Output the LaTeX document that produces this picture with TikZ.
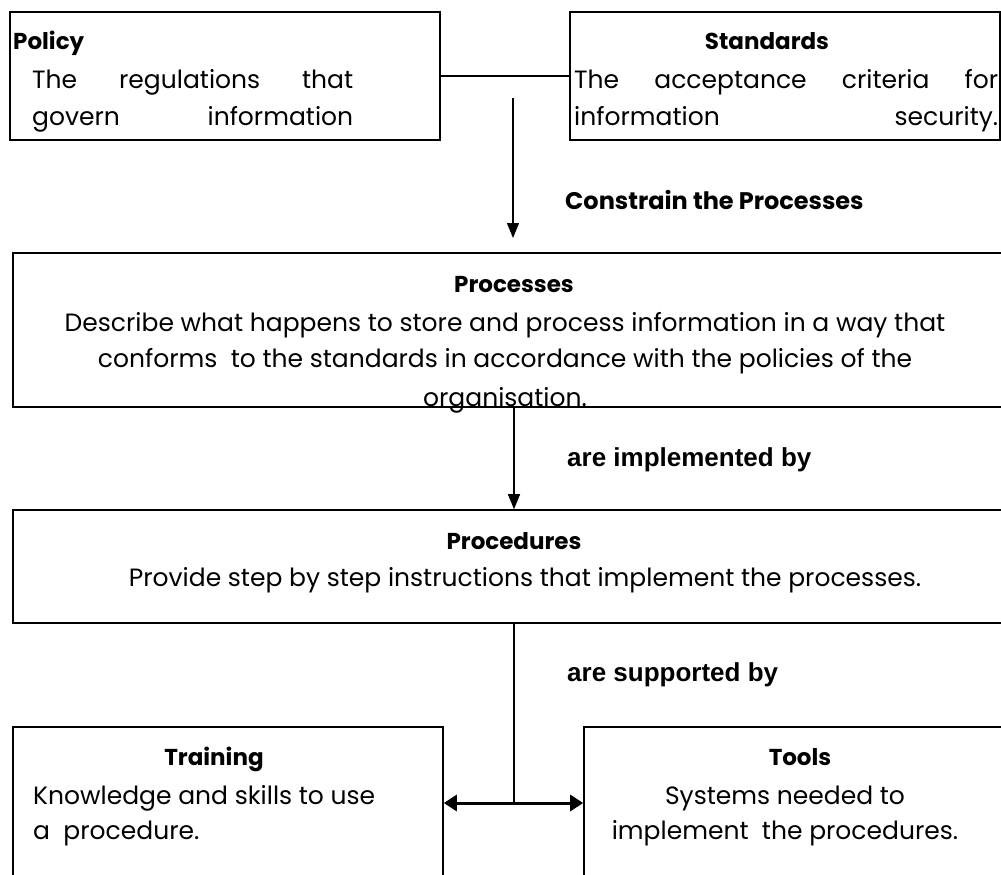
\documentclass[tikz,border=0pt]{standalone}
\usepackage{fontspec}
\setmainfont{Poppins}
\newfontfamily\arialfont{Liberation Sans}
\usetikzlibrary{arrows.meta}

\tikzset{
  box/.style={draw, line width=1.6pt, inner sep=0pt},
  body/.style={font=\fontsize{25}{30}\selectfont, inner sep=0pt},
  head/.style={font=\fontsize{23}{28}\selectfont\bfseries, inner sep=0pt},
  flowlabel/.style={font=\arialfont\fontsize{26}{31}\selectfont\bfseries, inner sep=0pt, anchor=mid west},
  flow/.style={line width=1.4pt, -{Triangle[length=15pt,width=12pt]}},
}

\begin{document}
\begin{tikzpicture}[x=1pt,y=-1pt]
  \useasboundingbox (0,0) rectangle (1001,875);
  \clip (0,0) rectangle (1001,875);
  % boxes (some run past the page edge)
  \node[box, minimum width=430pt, minimum height=128pt] (policy) at (225,76) {};
  \node[box, minimum width=430pt, minimum height=128pt] (standards) at (785,76) {};
  \node[box, minimum width=1002pt, minimum height=154pt] (processes) at (514,330) {};
  \node[box, minimum width=1002pt, minimum height=113pt] (procedures) at (514,566.5) {};
  \node[box, minimum width=430pt, minimum height=180pt] (training) at (228,817) {};
  \node[box, minimum width=431pt, minimum height=180pt] (tools) at (799.5,817) {};

  % texts
  \node[head, anchor=mid west] (policyhead) at (13,47) {Policy};
  \node[body, anchor=mid west] (policyone) at (32,86) {\makebox[321pt][s]{The regulations that}};
  \node[body, anchor=mid west] (policytwo) at (32,123) {\makebox[321pt][s]{govern information}};
  \node[head, anchor=mid] (standardshead) at (767,47) {Standards};
  \node[body, anchor=mid west] (standardsone) at (574,86) {\makebox[424pt][s]{The acceptance criteria for}};
  \node[body, anchor=mid west] (standardstwo) at (574,123) {\makebox[424pt][s]{information security.}};

  \node[head, anchor=mid] (processeshead) at (514,290) {Processes};
  \node[body, anchor=mid] (processesone) at (505,329) {Describe what happens to store and process information in a way that};
  \node[body, anchor=mid] (processestwo) at (505,365) {conforms\ \ to the standards in accordance with the policies of the};
  \node[body, anchor=mid] (processesthree) at (505,404) {organisation.};

  \node[head, anchor=mid] (procedureshead) at (514,547) {Procedures};
  \node[body, anchor=mid] (proceduresone) at (525,584) {Provide step by step instructions that implement the processes.};

  \node[head, anchor=mid] (traininghead) at (214,763) {Training};
  \node[body, anchor=mid west] (trainingone) at (33,802) {Knowledge and skills to use};
  \node[body, anchor=mid west] (trainingtwo) at (33,837) {a\ \ procedure.};
  \node[head, anchor=mid] (toolshead) at (800,763) {Tools};
  \node[body, anchor=mid] (toolsone) at (785,802) {Systems needed to};
  \node[body, anchor=mid] (toolstwo) at (785,837) {implement\ \ the procedures.};

  % connectors
  \coordinate (constraintop) at (513,98);
  \coordinate (constraintip) at (513,238);
  \coordinate (split) at (514,803);
  \draw[line width=1.4pt] (policy) -- (standards);
  \draw[flow] (constraintop) -- (constraintip);
  \draw[flow] (processes.south) -- (procedures.north);
  \draw[line width=1.4pt] (procedures.south) -- (split);
  \draw[line width=3pt, {Triangle[length=13pt,width=16pt]}-{Triangle[length=13pt,width=16pt]}]
    (training.east |- split) -- (tools.west |- split);

  % labels on the connectors
  \node[font=\fontsize{24}{29}\selectfont\bfseries, inner sep=0pt, anchor=mid west] (constrainlabel) at (565,207) {Constrain the Processes};
  \node[flowlabel] (implementedlabel) at (567,464) {are implemented by};
  \node[flowlabel] (supportedlabel) at (567,679) {are supported by};
\end{tikzpicture}
\end{document}
